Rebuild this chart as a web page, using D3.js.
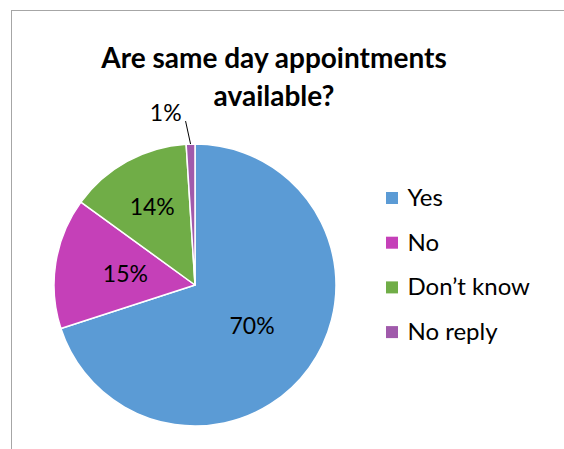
<!DOCTYPE html>
<html>
<head>
<meta charset="utf-8">
<script src="https://cdn.jsdelivr.net/npm/d3@7"></script>
<style>
  html, body { margin: 0; padding: 0; background: #fff; }
  svg { display: block; }
</style>
</head>
<body>
<div id="chart"></div>
<script>
const categories = ["Yes", "No", "Don\u2019t know", "No reply"];
const values = [70, 15, 14, 1];
const valueLabels = ["70%", "15%", "14%", "1%"];
const colors = ["#5B9BD5", "#C540B8", "#70AD47", "#A05AAB"];
const titleLines = ["Are same day appointments", "available?"];

const W = 564, H = 449;
const svg = d3.select("#chart").append("svg").attr("width", W).attr("height", H);
const font = "Lato, 'Open Sans', sans-serif";

// frame
svg.append("rect").attr("x", 11.5).attr("y", 10.5).attr("width", 600).attr("height", 500)
  .attr("fill", "none").attr("stroke", "#a6a6a6").attr("stroke-width", 1);

// title
svg.append("text").attr("x", 274).attr("y", 67.5).attr("text-anchor", "middle")
  .attr("font-family", font).attr("font-weight", "bold").attr("font-size", 28).attr("fill", "#000")
  .selectAll("tspan").data(titleLines).join("tspan")
  .attr("x", 274).attr("dy", (d, i) => i === 0 ? 0 : 38).text(d => d);

// pie
const cx = 195, cy = 285, r = 141;
const data = categories.map((c, i) => ({ label: c, value: values[i], text: valueLabels[i], color: colors[i] }));
const pie = d3.pie().sort(null).value(d => d.value).startAngle(0).endAngle(2 * Math.PI);
const arcs = pie(data);
const arc = d3.arc().innerRadius(0).outerRadius(r);
const g = svg.append("g").attr("transform", `translate(${cx},${cy})`);
g.selectAll("path").data(arcs).join("path")
  .attr("d", arc).attr("fill", d => d.data.color)
  .attr("stroke", "#fff").attr("stroke-width", 1.5).attr("stroke-linejoin", "round");

// labels
const lfs = 23;
arcs.forEach(d => {
  const mid = (d.startAngle + d.endAngle) / 2;
  const frac = (d.endAngle - d.startAngle) / (2 * Math.PI);
  if (frac < 0.05) {
    const p0 = [Math.sin(mid) * r, -Math.cos(mid) * r];
    const p1 = [p0[0] - 5, p0[1] - 23];
    g.append("line").attr("x1", p0[0]).attr("y1", p0[1]).attr("x2", p1[0]).attr("y2", p1[1])
      .attr("stroke", "#000").attr("stroke-width", 1);
    g.append("text").attr("x", p1[0] - 4).attr("y", p1[1]).attr("text-anchor", "end")
      .attr("font-family", font).attr("font-size", lfs).attr("fill", "#000").text(d.data.text);
  } else {
    const lr = (frac < 0.145 ? 0.63 : 0.5) * r;
    const x = Math.sin(mid) * lr, y = -Math.cos(mid) * lr;
    g.append("text").attr("x", x).attr("y", y).attr("dy", "0.35em").attr("text-anchor", "middle")
      .attr("font-family", font).attr("font-size", lfs).attr("fill", "#000").text(d.data.text);
  }
});

// legend
const lg = svg.append("g").attr("transform", "translate(386,192)");
const items = lg.selectAll("g").data(data).join("g").attr("transform", (d, i) => `translate(0,${i * 44.7})`);
items.append("rect").attr("width", 12).attr("height", 12).attr("fill", d => d.color);
items.append("text").attr("x", 21.5).attr("y", 14).attr("font-family", font).attr("font-size", 24)
  .attr("fill", "#000").text(d => d.label);
</script>
</body>
</html>
